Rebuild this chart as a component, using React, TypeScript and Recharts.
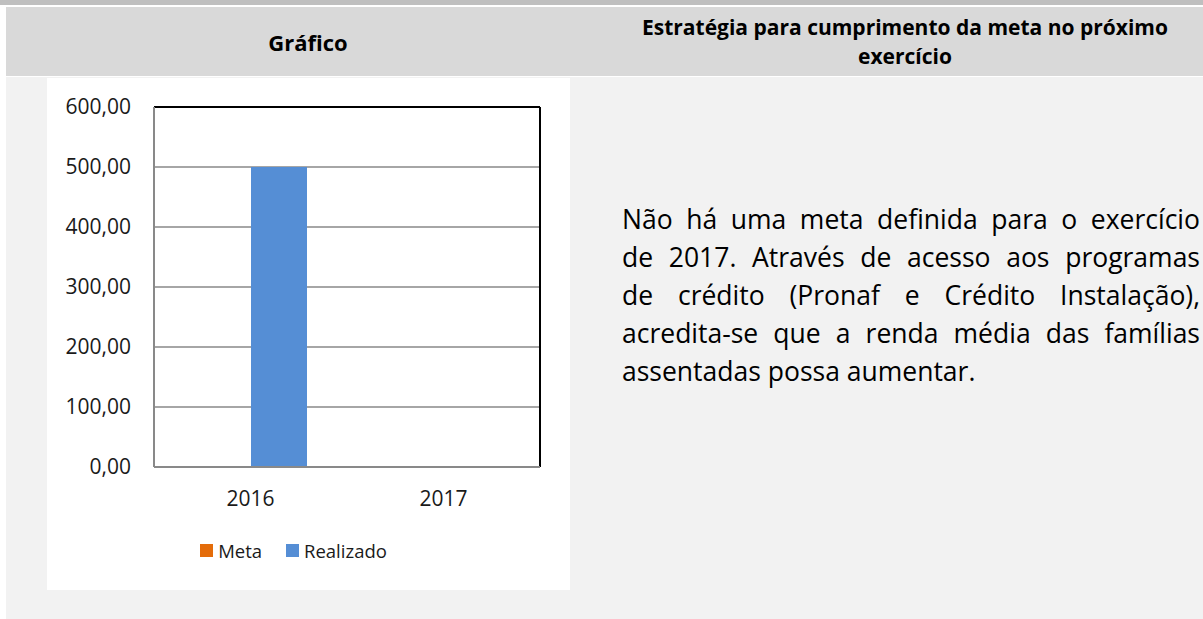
import React from "react";
import {
  BarChart,
  Bar,
  XAxis,
  YAxis,
  CartesianGrid,
  Legend,
  ReferenceLine,
} from "recharts";

const categories = ["2016", "2017"];
const metaValues: (number | null)[] = [null, null];
const realizadoValues: (number | null)[] = [500, null];
const yTicks = [0, 100, 200, 300, 400, 500, 600];

const seriesNames = { meta: "Meta", realizado: "Realizado" };
const seriesColors = { meta: "#E46C0A", realizado: "#558ED5" };

const headerLeft = "Gráfico";
const headerRight = ["Estratégia para cumprimento da meta no próximo", "exercício"];
const bodyLines = [
  "Não há uma meta definida para o exercício",
  "de 2017. Através de acesso aos programas",
  "de crédito (Pronaf e Crédito Instalação),",
  "acredita-se que a renda média das famílias",
  "assentadas possa aumentar.",
];

const data = categories.map((year, i) => ({
  year,
  meta: metaValues[i],
  realizado: realizadoValues[i],
}));

const font = "'Open Sans', 'Noto Sans', sans-serif";

const formatValue = (v: number) => v.toFixed(2).replace(".", ",");

function renderLegend(props: any) {
  const payload = props.payload || [];
  return (
    <div
      style={{
        display: "flex",
        justifyContent: "center",
        alignItems: "center",
        height: 30,
        gap: 24,
        fontFamily: font,
        fontSize: 18.5,
        color: "#1a1a1a",
      }}
    >
      {payload.map((entry: any) => (
        <div key={entry.value} style={{ display: "flex", alignItems: "center" }}>
          <span
            style={{
              display: "inline-block",
              width: 13,
              height: 13,
              background: entry.color,
              marginRight: 5,
            }}
          />
          <span>{entry.value}</span>
        </div>
      ))}
    </div>
  );
}

export default function App() {
  return (
    <div
      style={{
        position: "absolute",
        left: 0,
        top: 0,
        width: 1203,
        height: 619,
        overflow: "hidden",
        background: "#ffffff",
        fontFamily: font,
        color: "#000",
      }}
    >
      {/* top band */}
      <div style={{ position: "absolute", left: 0, top: 0, width: 1203, height: 5, background: "#bfbfbf" }} />
      {/* header row */}
      <div style={{ position: "absolute", left: 6, top: 7, width: 1197, height: 69, background: "#d9d9d9" }} />
      {/* body row */}
      <div style={{ position: "absolute", left: 6, top: 77, width: 1197, height: 542, background: "#f2f2f2" }} />

      <div
        style={{
          position: "absolute",
          left: 6,
          top: 7,
          width: 604,
          height: 69,
          display: "flex",
          alignItems: "center",
          justifyContent: "center",
          fontWeight: 700,
          fontSize: 22,
        }}
      >
        {headerLeft}
      </div>
      <div
        style={{
          position: "absolute",
          left: 600,
          top: 7,
          width: 610,
          height: 69,
          display: "flex",
          flexDirection: "column",
          alignItems: "center",
          justifyContent: "center",
          fontWeight: 700,
          fontSize: 21,
          lineHeight: "29px",
          whiteSpace: "nowrap",
        }}
      >
        {headerRight.map((l) => (
          <div key={l}>{l}</div>
        ))}
      </div>

      {/* strategy text */}
      <div
        style={{
          position: "absolute",
          left: 622,
          top: 200,
          width: 578,
          fontSize: 26.5,
          lineHeight: "38px",
        }}
      >
        {bodyLines.map((l, i) => (
          <div
            key={i}
            style={{
              textAlign: "justify",
              textAlignLast: i < bodyLines.length - 1 ? "justify" : "left",
              whiteSpace: "nowrap",
            }}
          >
            {l}
          </div>
        ))}
      </div>

      {/* chart box */}
      <div
        style={{
          position: "absolute",
          left: 47,
          top: 78,
          width: 523,
          height: 512,
          background: "#ffffff",
        }}
      >
        <BarChart
          width={523}
          height={512}
          data={data}
          margin={{ top: 29, right: 30, left: 0, bottom: 25 }}
          barGap={0}
        >
          <CartesianGrid vertical={false} stroke="#a6a6a6" strokeWidth={2} />
          <XAxis
            dataKey="year"
            axisLine={{ stroke: "#898989", strokeWidth: 2 }}
            tickLine={false}
            tickSize={0}
            tickMargin={24}
            height={68}
            tick={{ fontSize: 21, fill: "#1a1a1a", fontFamily: font }}
          />
          <YAxis
            domain={[0, 600]}
            ticks={yTicks}
            interval={0}
            tickFormatter={formatValue}
            axisLine={{ stroke: "#898989", strokeWidth: 2 }}
            tickLine={false}
            tickSize={0}
            tickMargin={23}
            width={107}
            tick={{ fontSize: 21, fill: "#1a1a1a", fontFamily: font }}
          />
          <ReferenceLine y={600} stroke="#000000" strokeWidth={2} />
          <ReferenceLine
            x={categories[categories.length - 1]}
            position="end"
            stroke="#000000"
            strokeWidth={2}
          />
          <Legend verticalAlign="bottom" content={renderLegend} />
          <Bar
            dataKey="meta"
            name={seriesNames.meta}
            fill={seriesColors.meta}
            barSize={56}
            isAnimationActive={false}
          />
          <Bar
            dataKey="realizado"
            name={seriesNames.realizado}
            fill={seriesColors.realizado}
            barSize={56}
            isAnimationActive={false}
          />
        </BarChart>
      </div>
    </div>
  );
}
